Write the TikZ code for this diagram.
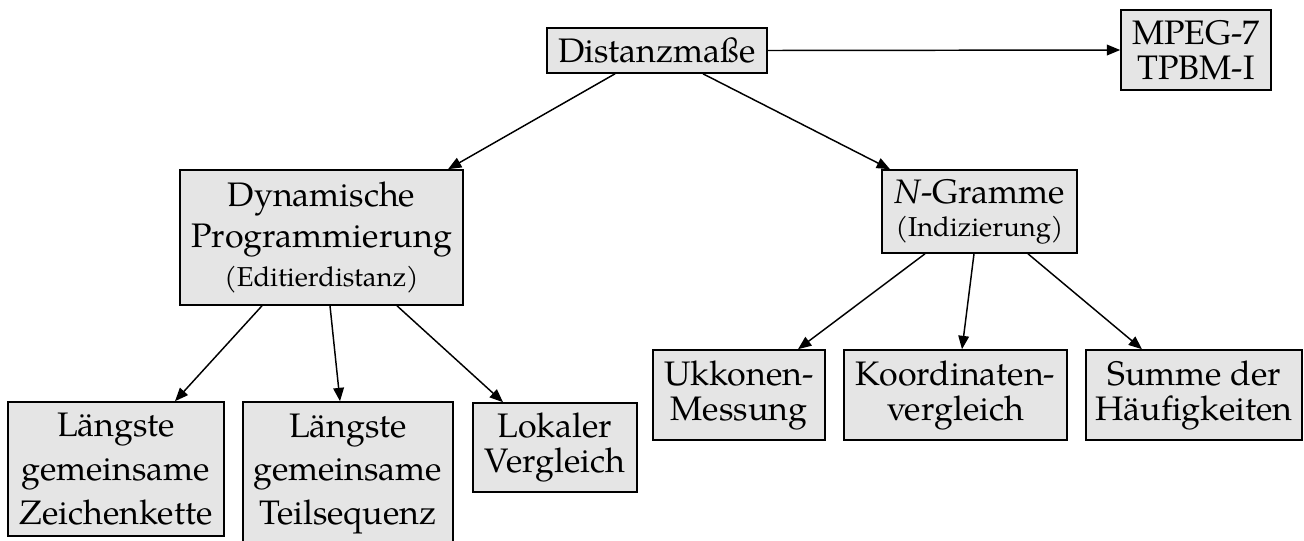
\documentclass[tikz,border=0pt]{standalone}
\usepackage{fontspec}
\setmainfont{texgyrepagella}[Extension=.otf,UprightFont=*-regular,ItalicFont=*-italic,BoldFont=*-bold,BoldItalicFont=*-bolditalic]
\usetikzlibrary{arrows.meta,calc}

\newcommand\boxfont{\fontsize{25.5pt}{26.25pt}\selectfont}
\newcommand\subfont{\fontsize{20.5pt}{24pt}\selectfont}

\tikzset{
  box/.style={draw, fill=black!10, line width=1.2pt, inner sep=0pt,
              align=center, font=\boxfont},
  size/.style 2 args={minimum width=#1*0.75pt, minimum height=#2*0.75pt},
  link/.style={line width=1.1pt, -{Triangle[length=10pt,width=8pt]}},
}

\begin{document}
\begin{tikzpicture}[x=0.75pt,y=-0.75pt]
  \useasboundingbox (0,0) rectangle (1304,540);

  % top level
  \node[box, size={220}{45}] (dist) at (657,50.5) {Distanzma\ss e};
  \node[box, size={150}{80}] (mpeg) at (1196,50) {MPEG-7\\TPBM-I};

  % second level
  \node[box, size={283}{135}] (dyn) at (321.5,237.5)
    {Dynamische\\[4.5pt]Programmierung\\[3.5pt]{\subfont(Editierdistanz)}};
  \node[box, size={195}{83}] (ngr) at (979.5,211.5)
    {\textit{N}-Gramme\\[-1.5pt]{\subfont(Indizierung)}};

  % leaves of the edit-distance branch
  \node[box, size={216}{134}] (lzk) at (116,469)
    {Längste\\[6.5pt]gemeinsame\\[6.5pt]Zeichenkette};
  \node[box, size={210}{144}] (lts) at (348,474)
    {Längste\\[6.5pt]gemeinsame\\[6.5pt]Teilsequenz};
  \node[box, size={164}{89}] (lok) at (555,447.5)
    {Lokaler\\Vergleich};

  % leaves of the n-gram branch
  \node[box, size={172}{90}] (ukk) at (739,395)
    {Ukkonen-\\Messung};
  \node[box, size={223}{90}] (koo) at (955.5,395)
    {Koordinaten-\\vergleich};
  \node[box, size={216}{90}] (sum) at (1194,395)
    {Summe der\\Häufigkeiten};

  % connectors
  \draw[link] (dist.east) -- (mpeg.west);
  \draw[link] ($(dist.south)+(-42,0)$) -- ($(dyn.north)+(126.5,0)$);
  \draw[link] ($(dist.south)+(46,0)$) -- ($(ngr.north)+(-89.5,0)$);

  \draw[link] ($(dyn.south)+(-59.5,0)$) -- ($(lzk.north)+(59,0)$);
  \draw[link] ($(dyn.south)+(8.5,0)$) -- ($(lts.north)+(-8,0)$);
  \draw[link] ($(dyn.south)+(75.5,0)$) -- ($(lok.north)+(-52,0)$);

  \draw[link] ($(ngr.south)+(-54.5,0)$) -- ($(ukk.north)+(59,0)$);
  \draw[link] ($(ngr.south)+(-5.5,0)$) -- ($(koo.north)+(6.5,0)$);
  \draw[link] ($(ngr.south)+(48.5,0)$) -- ($(sum.north)+(-52,0)$);
\end{tikzpicture}
\end{document}
